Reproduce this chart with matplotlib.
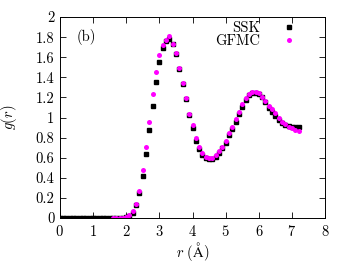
import matplotlib
matplotlib.use('Agg')
import matplotlib.pyplot as plt
import numpy as np

plt.rcParams['font.family'] = 'serif'
plt.rcParams['font.serif'] = ['cmr10', 'DejaVu Serif']
plt.rcParams['mathtext.fontset'] = 'cm'
plt.rcParams['axes.formatter.use_mathtext'] = True

# SSK g(r), r = 0.0 ... 7.2 step 0.1
r_ssk = np.round(np.arange(0, 73) * 0.1, 1)
g_ssk = [0.0] * 17 + [
    0.0, 0.0, 0.005, 0.01, 0.025, 0.055, 0.13, 0.25, 0.42, 0.64,
    0.875, 1.12, 1.355, 1.55, 1.69, 1.76, 1.78, 1.73, 1.63, 1.48,
    1.33, 1.18, 1.03, 0.90, 0.77, 0.69, 0.63, 0.60, 0.585, 0.585,
    0.61, 0.65, 0.70, 0.75, 0.83, 0.89, 0.96, 1.04, 1.11, 1.17,
    1.22, 1.24, 1.245, 1.235, 1.20, 1.15, 1.10, 1.06, 1.02, 0.98,
    0.95, 0.93, 0.915, 0.91, 0.905, 0.905,
]

# GFMC g(r), r = 1.6 ... 7.2 step 0.1
r_gfmc = np.round(np.arange(16, 73) * 0.1, 1)
g_gfmc = [
    0.0, 0.0, 0.0, 0.005, 0.015, 0.03, 0.065, 0.14, 0.27, 0.48,
    0.71, 0.96, 1.23, 1.455, 1.62, 1.72, 1.77, 1.81, 1.73, 1.645,
    1.49, 1.34, 1.19, 1.04, 0.93, 0.80, 0.71, 0.65, 0.61, 0.60,
    0.60, 0.63, 0.67, 0.71, 0.77, 0.845, 0.91, 0.99, 1.06, 1.135,
    1.19, 1.235, 1.25, 1.25, 1.24, 1.20, 1.16, 1.12, 1.085, 1.045,
    1.00, 0.96, 0.935, 0.91, 0.895, 0.88, 0.87,
]

fs = 10.5

fig = plt.figure(figsize=(3.5, 2.63), dpi=100)
ax = fig.add_axes([0.171, 0.171, 0.758, 0.764])

ax.plot(r_ssk, g_ssk, 's', color='black', markersize=3.2, label='SSK')
ax.plot(r_gfmc, g_gfmc, 'o', color='#ff00ff', markersize=3.6,
        markeredgewidth=0, label='GFMC')

ax.set_xlim(0, 8)
ax.set_ylim(0, 2)
ax.set_xticks(range(0, 9))
ax.set_yticks(np.round(np.arange(0, 2.01, 0.2), 1))
ax.set_yticklabels(['0', '0.2', '0.4', '0.6', '0.8', '1', '1.2', '1.4',
                    '1.6', '1.8', '2'])
ax.tick_params(direction='in', top=True, right=True, length=4,
               width=0.6, labelsize=fs, pad=4)
for s in ax.spines.values():
    s.set_linewidth(0.7)

ax.set_xlabel(r'$r\ (\mathrm{\AA})$', fontsize=fs, labelpad=1)
ax.set_ylabel(r'$g(r)$', fontsize=fs, labelpad=12)
ax.text(0.065, 0.9, '(b)', transform=ax.transAxes, fontsize=fs,
        va='center')

ax.legend(loc='upper right', frameon=False, markerfirst=False, fontsize=fs,
          handletextpad=1.6, handlelength=0.8, borderaxespad=0,
          labelspacing=0.0, borderpad=0, bbox_to_anchor=(0.887, 0.981))

fig.savefig('out.png', dpi=100)
